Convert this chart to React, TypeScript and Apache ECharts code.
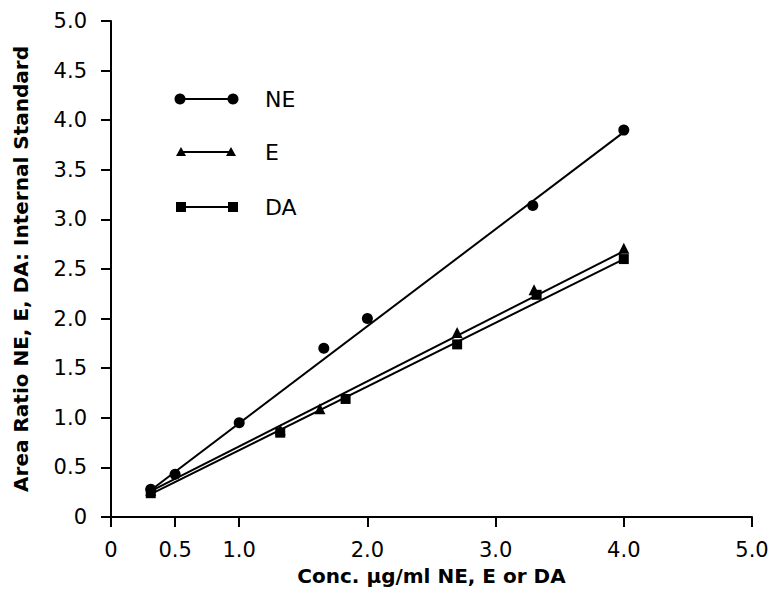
import React, { useEffect, useRef } from "react";
import * as echarts from "echarts";

// Measured points (x: Conc. µg/ml, y: area ratio)
const neX = [0.31, 0.5, 1.0, 1.66, 2.0, 3.29, 4.0];
const neY = [0.28, 0.43, 0.95, 1.7, 2.0, 3.14, 3.9];
const eX = [0.31, 1.32, 1.63, 2.7, 3.3, 4.0];
const eY = [0.27, 0.88, 1.09, 1.86, 2.29, 2.71];
const daX = [0.31, 1.32, 1.83, 2.7, 3.32, 4.0];
const daY = [0.24, 0.85, 1.19, 1.74, 2.24, 2.6];

// Fitted lines (end points)
const neFitX = [0.31, 4.0];
const neFitY = [0.27, 3.88];
const eFitX = [0.31, 4.0];
const eFitY = [0.26, 2.68];
const daFitX = [0.31, 4.0];
const daFitY = [0.23, 2.6];

const xTicks = [0, 0.5, 1, 2, 3, 4, 5];
const yTicks = [0, 0.5, 1, 1.5, 2, 2.5, 3, 3.5, 4, 4.5, 5];

const legendNames = ["NE", "E", "DA"];

const FONT = "DejaVu Sans";

const pairs = (xs: number[], ys: number[]) => xs.map((x, i) => [x, ys[i]]);
const fmt = (v: number) => (v === 0 ? "0" : v.toFixed(1));

export default function App() {
  const ref = useRef<HTMLDivElement>(null);
  useEffect(() => {
    if (!ref.current) return;
    const chart = echarts.init(ref.current, undefined, { renderer: "svg" });
    const lineStyle = { color: "#000", width: 2 };
    const fitSeries = (d: number[][]) => ({
      type: "line",
      data: d,
      symbol: "none",
      lineStyle,
      silent: true,
    });
    const pts = (d: number[][], symbol: string, size: number) => ({
      type: "scatter",
      data: d,
      symbol,
      symbolSize: size,
      itemStyle: { color: "#000", opacity: 1 },
    });
    const tri = (cx: number, cy: number) => ({
      type: "polygon",
      shape: { points: [[cx - 5, cy + 4], [cx, cy - 5], [cx + 5, cy + 4]] },
      style: { fill: "#000" },
    });
    const sq = (cx: number, cy: number) => ({
      type: "rect",
      shape: { x: cx - 5, y: cy - 5, width: 10, height: 10 },
      style: { fill: "#000" },
    });
    const circ = (cx: number, cy: number) => ({
      type: "circle",
      shape: { cx, cy, r: 5.5 },
      style: { fill: "#000" },
    });
    const lline = (x1: number, y1: number, x2: number, y2: number) => ({
      type: "line",
      shape: { x1, y1, x2, y2 },
      style: { stroke: "#000", lineWidth: 2 },
    });
    const ltext = (t: string, y: number) => ({
      type: "text",
      x: 265,
      y,
      style: {
        text: t,
        font: `22px '${FONT}'`,
        fill: "#000",
        verticalAlign: "middle",
        align: "left",
      },
    });
    chart.setOption({
      animation: false,
      backgroundColor: "#fff",
      grid: { left: 111, right: 20, top: 21, bottom: 79 },
      xAxis: {
        type: "value",
        min: 0,
        max: 5,
        interval: 0.5,
        name: "Conc. µg/ml NE, E or DA",
        nameLocation: "middle",
        nameGap: 49,
        nameTextStyle: { fontFamily: FONT, fontSize: 20, fontWeight: "bold", color: "#000" },
        axisLine: { lineStyle: { color: "#000", width: 2 } },
        axisTick: { length: 10, lineStyle: { color: "#000", width: 2 }, customValues: xTicks },
        axisLabel: {
          customValues: xTicks,
          formatter: fmt,
          fontFamily: FONT,
          fontSize: 21,
          color: "#000",
          margin: 22,
        },
        splitLine: { show: false },
      },
      yAxis: {
        type: "value",
        min: 0,
        max: 5,
        interval: 0.5,
        name: "Area Ratio NE, E, DA: Internal Standard",
        nameLocation: "middle",
        nameGap: 80,
        nameTextStyle: { fontFamily: FONT, fontSize: 20, fontWeight: "bold", color: "#000" },
        axisLine: { show: true, lineStyle: { color: "#000", width: 2 } },
        axisTick: { show: true, length: 10, lineStyle: { color: "#000", width: 2 }, customValues: yTicks },
        axisLabel: {
          customValues: yTicks,
          formatter: fmt,
          fontFamily: FONT,
          fontSize: 21,
          color: "#000",
          margin: 24,
        },
        splitLine: { show: false },
      },
      series: [
        { name: legendNames[0] + " fit", ...fitSeries(pairs(neFitX, neFitY)) },
        { name: legendNames[1] + " fit", ...fitSeries(pairs(eFitX, eFitY)) },
        { name: legendNames[2] + " fit", ...fitSeries(pairs(daFitX, daFitY)) },
        { name: legendNames[0], ...pts(pairs(neX, neY), "circle", 11) },
        { name: legendNames[1], ...pts(pairs(eX, eY), "triangle", 11) },
        { name: legendNames[2], ...pts(pairs(daX, daY), "rect", 10) },
      ],
      graphic: [
        lline(102, 517, 111, 517),
        lline(111, 517, 111, 525),
        lline(180, 99, 233, 99),
        circ(180, 99),
        circ(233, 99),
        ltext(legendNames[0], 99),
        lline(181, 152, 231, 152),
        tri(181, 152),
        tri(231, 152),
        ltext(legendNames[1], 152),
        lline(181, 207, 233, 207),
        sq(181, 207),
        sq(233, 207),
        ltext(legendNames[2], 207),
      ],
    });
    return () => chart.dispose();
  }, []);
  return (
    <div
      ref={ref}
      style={{ position: "fixed", left: 0, top: 0, width: 772, height: 596, background: "#fff" }}
    />
  );
}
